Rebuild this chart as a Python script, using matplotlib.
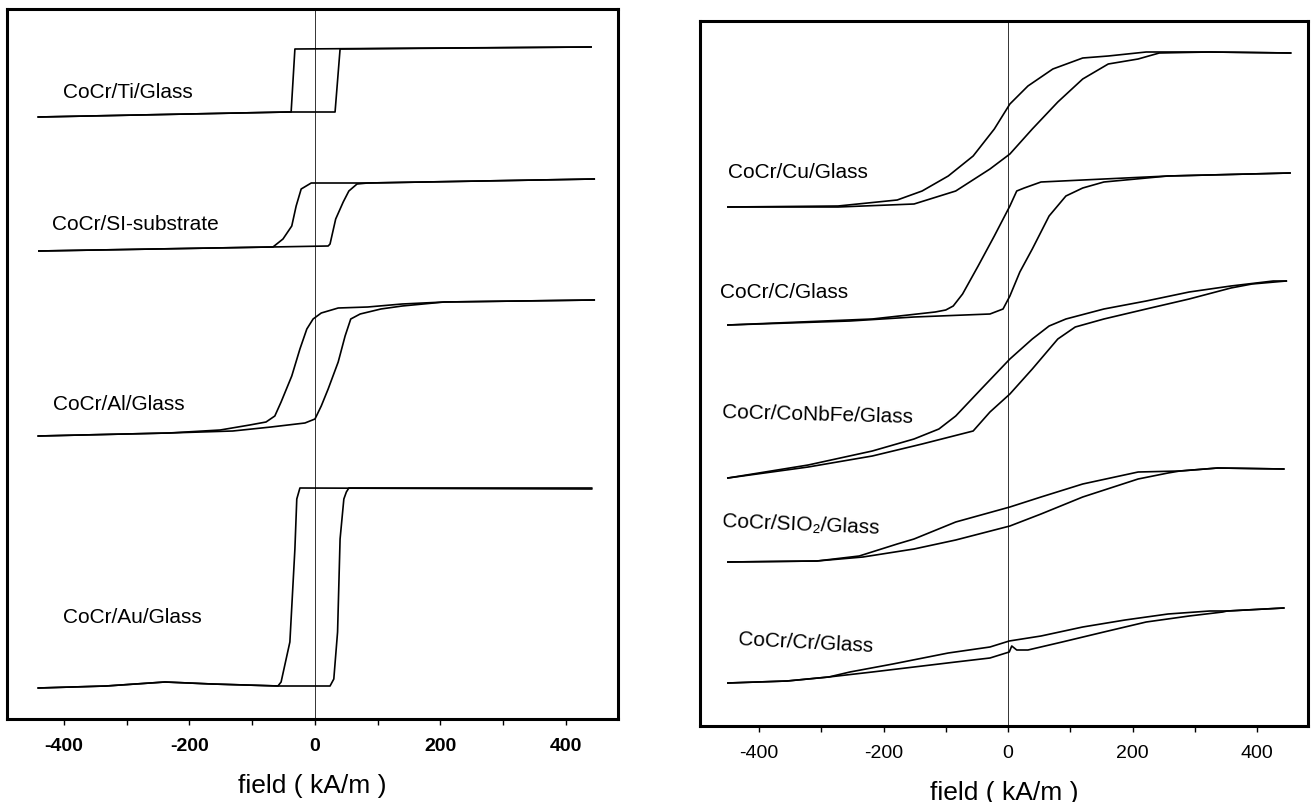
import matplotlib
matplotlib.use("Agg")
import matplotlib.pyplot as plt
from matplotlib.ticker import MultipleLocator

plt.rcParams['font.family'] = ['Liberation Sans', 'DejaVu Sans']

# ---------------- data: left panel (field kA/m, magnetisation arb. units incl. offset) ----------
left_names = ["CoCr/Ti/Glass", "CoCr/SI-substrate", "CoCr/Al/Glass", "CoCr/Au/Glass"]
left_label_x = [-402, -419, -418, -402]
left_label_y = [628, 495, 315, 102]

ti_desc_H = [440, -32, -38, -43, -441]
ti_desc_M = [672, 670, 607, 607, 602]
ti_asc_H = [-441, -43, 32, 40, 440]
ti_asc_M = [602, 607, 607, 670, 672]

si_desc_H = [445, 84, -6, -22, -30, -37, -51, -67, -70, -440]
si_desc_M = [540, 536, 536, 530, 513, 493, 480, 472, 472, 468]
si_asc_H = [-440, -70, 21, 24, 33, 45, 54, 67, 84, 445]
si_asc_M = [468, 472, 473, 475, 500, 517, 528, 535, 536, 540]

al_desc_H = [445, 206, 139, 84, 37, 10, -3, -13, -24, -37, -54, -64, -78, -104, -151, -233, -441]
al_desc_M = [419, 417, 415, 412, 411, 406, 400, 390, 370, 343, 317, 303, 297, 294, 289, 286, 283]
al_asc_H = [-441, -233, -131, -70, -16, 0, 10, 21, 37, 48, 57, 72, 105, 139, 206, 445]
al_asc_M = [283, 286, 288, 292, 296, 300, 313, 330, 357, 383, 400, 405, 410, 413, 417, 419]

au_desc_H = [441, -24, -29, -32, -40, -54, -59, -164, -239, -333, -441]
au_desc_M = [230, 231, 220, 170, 77, 37, 33, 35, 37, 33, 31]
au_asc_H = [-441, -333, -239, -164, -57, 24, 30, 36, 40, 46, 50, 54, 441]
au_asc_M = [31, 33, 37, 35, 33, 33, 40, 87, 180, 220, 227, 231, 231]

# ---------------- data: right panel ----------------
right_names = ["CoCr/Cu/Glass", "CoCr/C/Glass", "CoCr/CoNbFe/Glass", "CoCr/SIO\u2082/Glass", "CoCr/Cr/Glass"]
right_label_x = [-450, -463, -459, -459, -434]
right_label_y = [554, 434, 314, 205, 87]
right_label_rot = [0, 0, -1.5, -2.5, -3]

cu_desc_H = [454, 324, 257, 222, 161, 120, 72, 32, 3, -22, -56, -96, -138, -178, -273, -450]
cu_desc_M = [673, 674, 674, 674, 670, 668, 657, 640, 622, 597, 570, 550, 535, 526, 520, 519]
cu_asc_H = [-450, -273, -151, -84, -29, 3, 39, 80, 120, 161, 209, 243, 324, 454]
cu_asc_M = [519, 519, 522, 535, 557, 572, 597, 624, 647, 662, 667, 673, 674, 673]

c_desc_H = [453, 257, 154, 53, 26, 14, 3, -22, -48, -73, -88, -100, -117, -218, -450]
c_desc_M = [553, 550, 547, 544, 538, 535, 520, 490, 460, 432, 420, 416, 414, 407, 401]
c_asc_H = [-450, -254, -151, -29, -8, 3, 19, 39, 66, 93, 120, 154, 257, 453]
c_asc_M = [401, 405, 409, 412, 417, 430, 454, 477, 510, 530, 538, 544, 550, 553]

nb_desc_H = [447, 426, 358, 291, 222, 154, 93, 66, 39, 3, -43, -84, -111, -151, -218, -321, -450]
nb_desc_M = [445, 445, 440, 434, 425, 417, 407, 400, 387, 367, 337, 310, 297, 287, 275, 261, 248]
nb_asc_H = [-450, -321, -218, -138, -56, -29, 3, 39, 80, 108, 154, 222, 291, 358, 392, 447]
nb_asc_M = [248, 259, 270, 282, 295, 314, 332, 357, 387, 399, 407, 417, 427, 438, 442, 445]

sio_desc_H = [443, 337, 276, 209, 120, 53, 3, -84, -151, -178, -239, -307, -450]
sio_desc_M = [257, 258, 255, 254, 242, 229, 219, 204, 187, 182, 170, 165, 164]
sio_asc_H = [-450, -307, -233, -151, -84, 3, 53, 120, 209, 257, 276, 337, 443]
sio_asc_M = [164, 165, 169, 177, 186, 200, 212, 229, 247, 253, 255, 258, 257]

cr_desc_H = [443, 352, 324, 257, 188, 120, 53, 2, -29, -96, -185, -254, -288, -355, -450]
cr_desc_M = [118, 115, 115, 112, 106, 99, 90, 85, 79, 73, 62, 54, 49, 45, 43]
cr_asc_H = [-450, -355, -288, -218, -151, -84, -29, 2, 6, 14, 32, 87, 154, 222, 291, 345, 352, 443]
cr_asc_M = [43, 45, 49, 54, 59, 64, 68, 74, 80, 76, 76, 84, 94, 104, 110, 114, 115, 118]

xticks_major = [-400, -200, 0, 200, 400]
xlabel_text = "field ( kA/m )"

left_loops = [(ti_desc_H, ti_desc_M, ti_asc_H, ti_asc_M),
              (si_desc_H, si_desc_M, si_asc_H, si_asc_M),
              (al_desc_H, al_desc_M, al_asc_H, al_asc_M),
              (au_desc_H, au_desc_M, au_asc_H, au_asc_M)]
right_loops = [(cu_desc_H, cu_desc_M, cu_asc_H, cu_asc_M),
               (c_desc_H, c_desc_M, c_asc_H, c_asc_M),
               (nb_desc_H, nb_desc_M, nb_asc_H, nb_asc_M),
               (sio_desc_H, sio_desc_M, sio_asc_H, sio_asc_M),
               (cr_desc_H, cr_desc_M, cr_asc_H, cr_asc_M)]

W, H = 1316, 803
fig = plt.figure(figsize=(W / 100, H / 100), dpi=100)

axL = fig.add_axes([7 / W, (H - 720) / H, (618 - 7) / W, (720 - 10) / H])
axR = fig.add_axes([700 / W, (H - 727) / H, (1308 - 700) / W, (727 - 22) / H])


def style(ax, xlim, ylim, weight):
    ax.set_xlim(*xlim)
    ax.set_ylim(*ylim)
    for s in ax.spines.values():
        s.set_linewidth(2.2)
        s.set_color('black')
    ax.set_yticks([])
    ax.set_xticks(xticks_major)
    ax.set_xticklabels([str(t) for t in xticks_major], fontsize=14, fontweight=weight)
    ax.xaxis.set_minor_locator(MultipleLocator(100))
    ax.tick_params(axis='x', which='both', direction='out', length=4, width=1.0, pad=9)
    ax.axvline(0, color='#333333', lw=0.7, zorder=1)
    ax.set_xlabel(xlabel_text, fontsize=19, labelpad=14)


style(axL, (-490.8, 482.9), (0, 710), 'bold')
style(axR, (-494.8, 481.9), (0, 705), 'normal')

for (dh, dm, ah, am) in left_loops:
    axL.plot(dh, dm, color='black', lw=1.2, zorder=3)
    axL.plot(ah, am, color='black', lw=1.2, zorder=3)
for name, lx, ly in zip(left_names, left_label_x, left_label_y):
    axL.text(lx, ly, name, fontsize=15, ha='left', va='center')

for (dh, dm, ah, am) in right_loops:
    axR.plot(dh, dm, color='black', lw=1.2, zorder=3)
    axR.plot(ah, am, color='black', lw=1.2, zorder=3)
for name, lx, ly, rot in zip(right_names, right_label_x, right_label_y, right_label_rot):
    axR.text(lx, ly, name, fontsize=15, ha='left', va='center', rotation=rot,
             rotation_mode='anchor')

fig.savefig("out.png", dpi=100)
